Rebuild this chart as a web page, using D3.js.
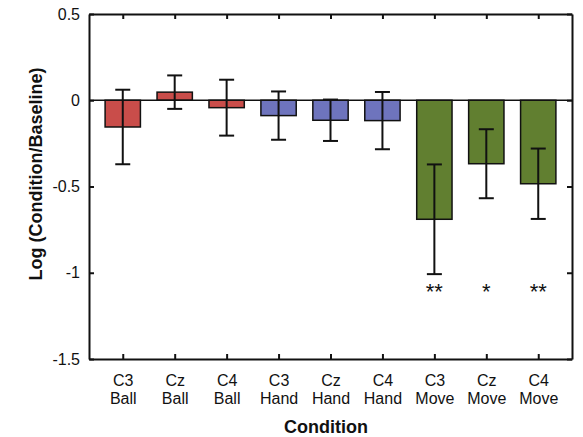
<!DOCTYPE html>
<html>
<head>
<meta charset="utf-8">
<script src="https://cdn.jsdelivr.net/npm/d3@7"></script>
<style>
  body { margin: 0; background: #fff; }
  svg { display: block; font-family: Arial, "Liberation Sans", sans-serif; }
</style>
</head>
<body>
<div id="chart"></div>
<script>
// Bar chart data: log ratio per condition, with symmetric error bars
const electrodes = ['C3', 'Cz', 'C4', 'C3', 'Cz', 'C4', 'C3', 'Cz', 'C4'];
const tasks = ['Ball', 'Ball', 'Ball', 'Hand', 'Hand', 'Hand', 'Move', 'Move', 'Move'];
const means = [-0.155, 0.047, -0.043, -0.089, -0.116, -0.118, -0.69, -0.368, -0.484];
const errors = [0.216, 0.097, 0.162, 0.14, 0.12, 0.166, 0.318, 0.2, 0.204];
const stars = ['', '', '', '', '', '', '**', '*', '**'];
const yTicks = [0.5, 0, -0.5, -1, -1.5];

const colors = { Ball: '#c94d4a', Hand: '#6e74bd', Move: '#617f30' };

const width = 583, height = 437;
const margin = { top: 14, right: 11, bottom: 78, left: 89 };
const plotW = width - margin.left - margin.right;
const plotH = height - margin.top - margin.bottom;

const svg = d3.select('#chart').append('svg')
    .attr('width', width)
    .attr('height', height);

const g = svg.append('g')
    .attr('transform', `translate(${margin.left},${margin.top})`);

const x = d3.scaleLinear().domain([0.35, 9.65]).range([0, plotW]);
const y = d3.scaleLinear().domain([-1.5, 0.5]).range([plotH, 0]);
const barW = x(1.68) - x(1);
const capW = 15;

const idx = d3.range(means.length);

// Bars
g.append('g')
    .selectAll('rect')
    .data(idx)
    .enter()
    .append('rect')
    .attr('x', i => x(i + 1) - barW / 2)
    .attr('y', i => y(Math.max(0, means[i])))
    .attr('width', barW)
    .attr('height', i => Math.abs(y(means[i]) - y(0)))
    .attr('fill', i => colors[tasks[i]])
    .attr('stroke', '#111')
    .attr('stroke-width', 1.5);

// Zero line
g.append('line')
    .attr('x1', 0).attr('x2', plotW)
    .attr('y1', y(0)).attr('y2', y(0))
    .attr('stroke', '#111')
    .attr('stroke-width', 1.5);

// Error bars
const err = g.append('g')
    .attr('stroke', '#111')
    .attr('stroke-width', 2)
    .selectAll('g')
    .data(idx)
    .enter()
    .append('g');

err.append('line')
    .attr('x1', i => x(i + 1)).attr('x2', i => x(i + 1))
    .attr('y1', i => y(means[i] + errors[i]))
    .attr('y2', i => y(means[i] - errors[i]));

err.append('line')
    .attr('x1', i => x(i + 1) - capW / 2).attr('x2', i => x(i + 1) + capW / 2)
    .attr('y1', i => y(means[i] + errors[i]))
    .attr('y2', i => y(means[i] + errors[i]));

err.append('line')
    .attr('x1', i => x(i + 1) - capW / 2).attr('x2', i => x(i + 1) + capW / 2)
    .attr('y1', i => y(means[i] - errors[i]))
    .attr('y2', i => y(means[i] - errors[i]));

// Significance stars
g.append('g')
    .selectAll('text')
    .data(idx.filter(i => stars[i]))
    .enter()
    .append('text')
    .attr('x', i => x(i + 1))
    .attr('y', y(-1.1) + 9)
    .attr('text-anchor', 'middle')
    .attr('font-size', 22)
    .attr('fill', '#111')
    .text(i => stars[i]);

// Axes (box with inward ticks on all sides)
const xTicks = idx.map(i => i + 1);

const axisStyle = sel => {
    sel.select('.domain').attr('stroke', '#111').attr('stroke-width', 2);
    sel.selectAll('.tick line').attr('stroke', '#111').attr('stroke-width', 2);
    sel.selectAll('text').attr('fill', '#111');
};

const xAxis = g.append('g')
    .attr('transform', `translate(0,${plotH})`)
    .call(d3.axisBottom(x).tickValues(xTicks).tickSizeInner(-5).tickSizeOuter(0).tickPadding(12))
    .call(axisStyle);

xAxis.selectAll('.tick text').remove();
xAxis.selectAll('.tick')
    .append('text')
    .attr('text-anchor', 'middle')
    .attr('font-size', 16)
    .attr('fill', '#111')
    .each(function(d) {
        const t = d3.select(this);
        t.append('tspan').attr('x', 0).attr('y', 27).text(electrodes[d - 1]);
        t.append('tspan').attr('x', 0).attr('y', 45).text(tasks[d - 1]);
    });

g.append('g')
    .call(d3.axisTop(x).tickValues(xTicks).tickSizeInner(-5).tickSizeOuter(0).tickFormat(''))
    .call(axisStyle);

g.append('g')
    .call(d3.axisLeft(y).tickValues(yTicks).tickSizeInner(-5).tickSizeOuter(0).tickPadding(9)
        .tickFormat(d => String(d)))
    .call(axisStyle)
    .selectAll('.tick text')
    .attr('font-size', 16);

g.append('g')
    .attr('transform', `translate(${plotW},0)`)
    .call(d3.axisRight(y).tickValues(yTicks).tickSizeInner(-5).tickSizeOuter(0).tickFormat(''))
    .call(axisStyle);

// Axis titles
svg.append('text')
    .attr('x', 326)
    .attr('y', 433)
    .attr('text-anchor', 'middle')
    .attr('font-size', 18)
    .attr('font-weight', 'bold')
    .attr('fill', '#111')
    .text('Condition');

svg.append('text')
    .attr('transform', 'translate(42,174) rotate(-90)')
    .attr('text-anchor', 'middle')
    .attr('font-size', 18)
    .attr('font-weight', 'bold')
    .attr('fill', '#111')
    .text('Log (Condition/Baseline)');
</script>
</body>
</html>
